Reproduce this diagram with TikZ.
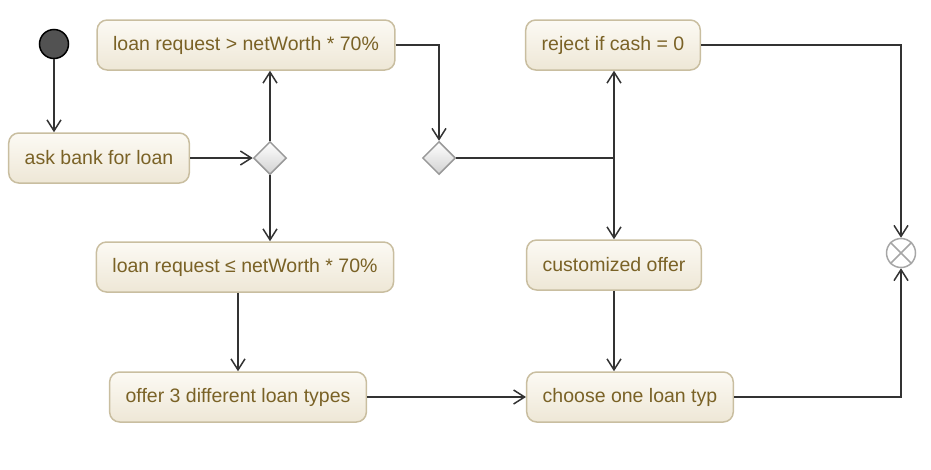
\documentclass[tikz,border=0pt]{standalone}
\usepackage{fontspec}
\setmainfont{Liberation Sans}
\usetikzlibrary{shapes.geometric,arrows.meta}
\definecolor{boxline}{HTML}{C9BEA0}
\definecolor{boxtop}{HTML}{FCFAF4}
\definecolor{boxbottom}{HTML}{EEE7D6}
\definecolor{boxtext}{HTML}{7A6226}
\tikzset{
	action/.style={rectangle, rounded corners=10pt, draw=boxline, line width=1.5pt,
		top color=boxtop, bottom color=boxbottom, text=boxtext,
		minimum height=50pt, inner xsep=16pt, font=\fontsize{19.5}{22}\selectfont},
	choice/.style={diamond, draw=black!40, line width=1.5pt, top color=white,
		bottom color=black!18, minimum size=33pt, inner sep=0pt},
	flow/.style={line width=1.5pt, black!80},
	>={Straight Barb[length=11pt,width=14pt,line width=1.5pt]}
}

\begin{document}
\begin{tikzpicture}[x=1pt,y=-1pt]
	\useasboundingbox (0,0) rectangle (931,469);
	% start and end
	\node[circle, fill=black!68, draw=black, line width=1.5pt, minimum size=29pt] (start) at (54,44) {};
	\node[circle, draw=black!35, line width=1.5pt, minimum size=29pt] (final) at (901,253) {};
	\draw[black!35, line width=1.5pt] (final.45) -- (final.225) (final.135) -- (final.315);
	% actions
	\node[action] (ask) at (99,158) {ask bank for loan};
	\node[action] (high) at (246,45) {loan request > netWorth * 70\%};
	\node[action] (low) at (245,267) {loan request ≤ netWorth * 70\%};
	\node[action] (offer) at (238,397) {offer 3 different loan types};
	\node[action] (reject) at (613,45) {reject if cash = 0};
	\node[action] (custom) at (614,265) {customized offer};
	\node[action] (choose) at (630,397) {choose one loan typ};
	% decisions
	\node[choice] (d1) at (270,158) {};
	\node[choice] (d2) at (439,158) {};
	\coordinate (fork) at (614,158);
	% connectors
	\draw[flow,->] (start) -- (start |- ask.north);
	\draw[flow,->] (ask) -- (d1);
	\draw[flow,->] (d1) -- (d1 |- high.south);
	\draw[flow,->] (d1) -- (d1 |- low.north);
	\draw[flow,->] (high.east) -| (d2.north);
	\draw[flow] (d2.east) -- (fork);
	\draw[flow,->] (fork) -- (fork |- reject.south);
	\draw[flow,->] (fork) -- (fork |- custom.north);
	\draw[flow,->] (reject.east) -| (final.north);
	\draw[flow,->] (low.south -| offer.north) -- (offer.north);
	\draw[flow,->] (offer) -- (choose);
	\draw[flow,->] (custom.south) -- (custom.south |- choose.north);
	\draw[flow,->] (choose.east) -| (final.south);
\end{tikzpicture}
\end{document}
